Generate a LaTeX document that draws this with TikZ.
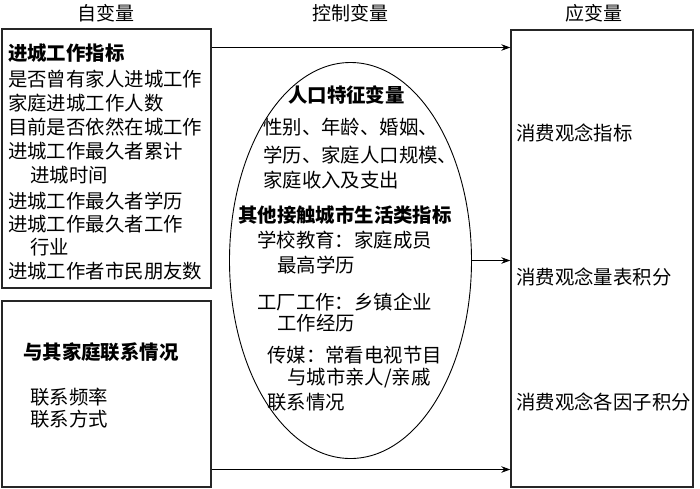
\documentclass[tikz,border=0pt]{standalone}
\usepackage{fontspec}
\setmainfont{Noto Sans CJK SC}
\usetikzlibrary{arrows.meta,shapes.geometric}
\tikzset{
  box/.style={draw=black!85,line width=1.4pt,inner sep=0pt},
  oval/.style={draw,ellipse,line width=0.9pt,inner sep=0pt,minimum width=242pt,minimum height=396pt},
  txt/.style={anchor=west,inner sep=0pt,font=\fontsize{19.4}{22}\selectfont},
  btxt/.style={txt,font=\fontsize{19.4}{22}\selectfont\bfseries},
  head/.style={inner sep=0pt,font=\fontsize{19}{22}\selectfont},
  arr/.style={-{Stealth[length=9pt,width=6.5pt]},line width=0.9pt}
}
\begin{document}
\begin{tikzpicture}[x=1pt,y=-1pt]
\useasboundingbox (0,0) rectangle (700,488);
% headers
\node[head] (h1) at (106,13) {自变量};
\node[head] (h2) at (350,13) {控制变量};
\node[head] (h3) at (594,13) {应变量};
% boxes
\node[box,minimum width=209pt,minimum height=259pt] (b1) at (106.5,158.5) {};
\node[box,minimum width=209pt,minimum height=186pt] (b2) at (106.5,394) {};
\node[box,minimum width=182pt,minimum height=457pt] (rb) at (602,258.5) {};
\node[oval] (el) at (350.5,260.5) {};
% left box 1 text
\node[btxt] (t1) at (8,53) {进城工作指标};
\node[txt] (t2) at (8,79) {是否曾有家人进城工作};
\node[txt] (t3) at (8,103) {家庭进城工作人数};
\node[txt] (t4) at (8,127) {目前是否依然在城工作};
\node[txt] (t5) at (8,151) {进城工作最久者累计};
\node[txt] (t6) at (30,175) {进城时间};
\node[txt] (t7) at (8,201) {进城工作最久者学历};
\node[txt] (t8) at (8,224) {进城工作最久者工作};
\node[txt] (t9) at (30,247) {行业};
\node[txt] (t10) at (8,271) {进城工作者市民朋友数};
% left box 2 text
\node[btxt] (s1) at (23,352) {与其家庭联系情况};
\node[txt] (s2) at (30,397) {联系频率};
\node[txt] (s3) at (30,419) {联系方式};
% ellipse text
\node[btxt] (e1) at (288,95) {人口特征变量};
\node[txt] (e2) at (263,127) {性别、年龄、婚姻、};
\node[txt] (e3) at (263,155) {学历、家庭人口规模、};
\node[txt] (e4) at (263,180) {家庭收入及支出};
\node[btxt] (e5) at (238,215) {其他接触城市生活类指标};
\node[txt] (e6) at (257,240) {学校教育：家庭成员};
\node[txt] (e7) at (277,265) {最高学历};
\node[txt] (e8) at (257,302) {工厂工作：乡镇企业};
\node[txt] (e9) at (277,323) {工作经历};
\node[txt] (e10) at (267,355) {传媒：常看电视节目};
\node[txt] (e11) at (287,378) {与城市亲人/亲戚};
\node[txt] (e12) at (267,402) {联系情况};
% right box text
\node[txt] (r1) at (516,133) {消费观念指标};
\node[txt] (r2) at (516,277) {消费观念量表积分};
\node[txt] (r3) at (516,402) {消费观念各因子积分};
% connectors
\coordinate (ya) at (0,47.5);
\coordinate (yc) at (0,469.5);
\draw[arr] (b1.east |- ya) -- (rb.west |- ya);
\draw[arr] (el.east) -- (el.east -| rb.west);
\draw[arr] (b2.east |- yc) -- (rb.west |- yc);
\end{tikzpicture}
\end{document}
